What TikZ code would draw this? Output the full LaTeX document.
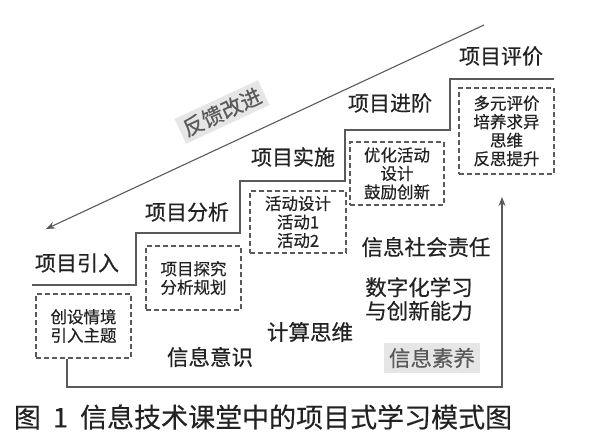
\documentclass[tikz,border=0pt]{standalone}
\usepackage{fontspec}
\setmainfont{Noto Sans CJK SC}[FakeBold=0.5]
\newfontfamily\capfont{Noto Sans CJK SC}[FakeBold=0.3]
\usetikzlibrary{arrows.meta}
\definecolor{inkgray}{HTML}{222222}
\definecolor{linegray}{HTML}{5A5A5A}
\definecolor{tagfill}{HTML}{E6E6E6}
\tikzset{
  stage/.style={text=inkgray, font=\fontsize{21}{23}\selectfont, inner sep=0pt},
  skill/.style={text=inkgray, font=\fontsize{21.5}{23.5}\selectfont, align=center, inner sep=0pt},
  taskbox/.style={draw=linegray, dashed, line width=1.2pt, dash pattern=on 5pt off 3pt,
    text=inkgray, align=center, font=\fontsize{16.5}{18.5}\selectfont, inner sep=0pt},
  flow/.style={draw=linegray, line width=1.3pt, -{Stealth[length=9pt,width=7pt]}}
}
\begin{document}
\begin{tikzpicture}[x=1pt, y=-1pt]
    \useasboundingbox (0,0) rectangle (601,438);

    % Stairs of the project stages
    \draw[linegray, line width=1.8pt] (32,285) -- (136,285) -- (136,233) -- (240,233) -- (240,181)
      -- (345,181) -- (345,130) -- (450,130) -- (450,79) -- (554,79);

    % Stage labels
    \node[stage] (intro) at (77,263) {项目引入};
    \node[stage] (analyse) at (187,212) {项目分析};
    \node[stage] (run) at (293,157) {项目实施};
    \node[stage] (advance) at (390,103) {项目进阶};
    \node[stage] (review) at (501,56) {项目评价};

    % Tasks of each stage
    \node[taskbox, minimum width=95pt, minimum height=64pt] (setup) at (83.5,326) {创设情境\\引入主题};
    \node[taskbox, minimum width=95pt, minimum height=64pt] (explore) at (193.5,278) {项目探究\\分析规划};
    \node[taskbox, minimum width=96pt, minimum height=62pt] (design) at (298,222) {活动设计\\活动1\\活动2};
    \node[taskbox, minimum width=94pt, minimum height=63pt] (improve) at (397,173.5) {优化活动\\设计\\鼓励创新};
    \node[taskbox, minimum width=95pt, minimum height=86pt] (assess) at (506.5,131) {多元评价\\培养求异\\思维\\反思提升};

    % Feedback arrow back to the start
    \coordinate (fbtop) at (484,25);
    \coordinate (fbend) at (46,229);
    \draw[flow, line width=1.1pt] (fbtop) -- (fbend);
    \node[stage, fill=tagfill, inner sep=4pt, rotate=25, text=linegray] (feedback) at (222,112) {反馈改进};

    % Information literacy
    \node[skill] (aware) at (210,357) {信息意识};
    \node[skill] (compute) at (310,332) {计算思维};
    \node[skill] (digital) at (419,299) {数字化学习\\与创新能力};
    \node[skill] (society) at (426,247) {信息社会责任};
    \node[skill, fill=tagfill, inner sep=5pt, text=linegray] (literacy) at (432,358) {信息素养};

    % Path from the first task up to the last
    \coordinate (turnl) at (67,387);
    \coordinate (turnr) at (502,387);
    \coordinate (goal) at (502,197);
    \draw[flow] (setup.south -| turnl) -- (turnl) -- (turnr) -- (goal);

    % Caption
    \node[text=inkgray, font=\capfont\fontsize{27}{30}\selectfont, inner sep=0pt] (caption) at (263,417)
      {图\hspace{0.45em}1\hspace{0.45em}信息技术课堂中的项目式学习模式图};
\end{tikzpicture}
\end{document}
